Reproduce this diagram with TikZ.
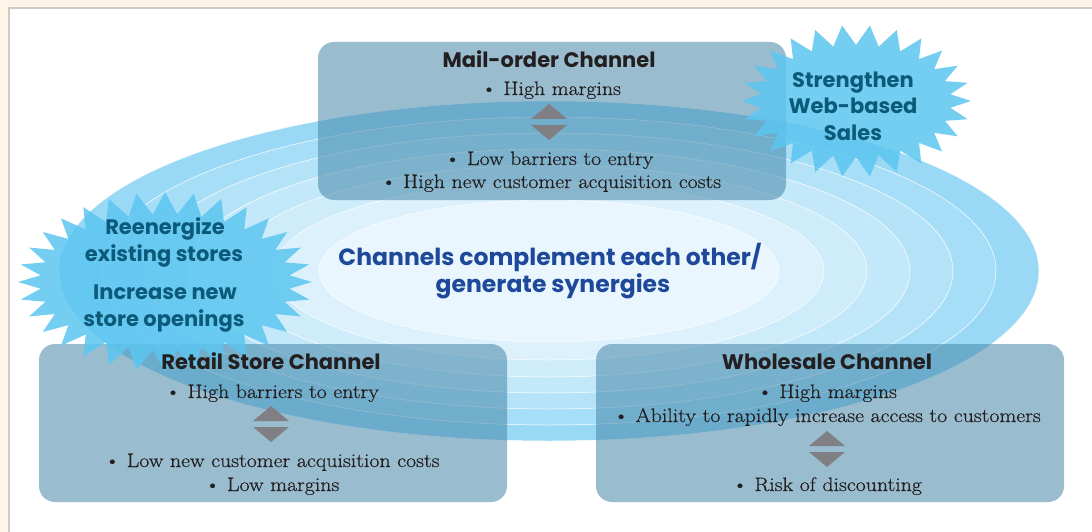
\documentclass[tikz,border=0pt]{standalone}
\usepackage{fontspec}
\newfontfamily\futura{Poppins}
\newfontfamily\bodyserif{Latin Modern Roman}[FakeStretch=1.12,FakeBold=0.6]
\usetikzlibrary{positioning}
\definecolor{cream}{RGB}{254,244,232}
\definecolor{rim}{RGB}{207,202,195}
\definecolor{ringout}{RGB}{154,217,246}
\definecolor{ringin}{RGB}{233,246,253}
\definecolor{boxblue}{RGB}{70,135,168}
\definecolor{burst}{RGB}{92,198,240}
\definecolor{bursttext}{RGB}{12,90,122}
\definecolor{synergy}{RGB}{30,72,154}
\definecolor{ink}{RGB}{35,31,32}
\definecolor{arrowgray}{RGB}{128,128,132}

\tikzset{
  chanbox/.style={fill=boxblue,fill opacity=0.55,rounded corners=16pt},
  chantitle/.style={anchor=base,inner sep=0pt,text=ink,font=\futura\bfseries\fontsize{21}{24}\selectfont},
  chanitem/.style={anchor=base,inner sep=0pt,text=ink,font=\bodyserif\fontsize{19.5}{22}\selectfont},
  burstline/.style={anchor=base,inner sep=0pt,text=bursttext,font=\futura\bfseries\fontsize{21}{24}\selectfont},
  synline/.style={anchor=base,inner sep=0pt,text=synergy,font=\futura\bfseries\fontsize{23.5}{26}\selectfont},
}

% two grey triangles between pros and cons
\newcommand{\tradeoff}[2]{%
  \fill[arrowgray] (#1,#2) -- (#1+18,#2+15) -- (#1-18,#2+15) -- cycle;
  \fill[arrowgray] (#1-18,#2+21) -- (#1+18,#2+21) -- (#1,#2+36) -- cycle;
}
% spiky burst: centre, radii, spike height, number of spikes
\newcommand{\spikes}[6]{%
  \fill[burst,fill opacity=0.85] ({#1+#3},#2)
    \foreach \k in {1,...,\numexpr2*#6\relax}
      { -- ({#1+(#3-#5*mod(\k,2))*cos(\k*180/#6)},{#2+(#4-#5*mod(\k,2))*sin(\k*180/#6)}) }
    -- cycle;
}

\begin{document}
\begin{tikzpicture}[x=1pt,y=-1pt]
    \useasboundingbox (0,0) rectangle (1092,532);
    \fill[cream] (0,0) rectangle (1092,532);
    \fill[white] (9,8) rectangle (1092,532);
    \draw[rim,line width=2pt] (9,532) -- (9,8) -- (1092,8);

    % rings, outer to inner
    \foreach \rx/\ry [count=\i from 0] in {490/170,447/154,404/138,361/122,318/106,275/89,230/71}
    {
      \pgfmathsetmacro\p{\i*100/6}
      \fill[ringin!\p!ringout,draw=white,line width=0.5pt] (549,271) ellipse [x radius=\rx, y radius=\ry];
    }
    \node[synline] (syn1) at (550,265) {Channels complement each other/};
    \node[synline] (syn2) at (553,292) {generate synergies};

    % channel boxes
    \fill[chanbox] (318,42) rectangle (786,200);
    \fill[chanbox] (39,344) rectangle (507,502);
    \fill[chanbox] (596,344) rectangle (1064,502);

    % bursts
    \spikes{856}{101}{115}{76}{20}{26}
    \spikes{165}{282}{147}{90}{22}{32}
    \node[burstline] (web1) at (853,88) {Strengthen};
    \node[burstline] (web2) at (853,114) {Web-based};
    \node[burstline] (web3) at (853,140) {Sales};
    \node[burstline] (store1) at (165,234) {Reenergize};
    \node[burstline] (store2) at (164,261) {existing stores};
    \node[burstline] (store3) at (165,299) {Increase new};
    \node[burstline] (store4) at (164,326) {store openings};

    % mail-order
    \node[chantitle] (mail) at (549,68) {Mail-order Channel};
    \node[chanitem] (mail1) at (551,95) {\textbullet\ High margins};
    \tradeoff{549}{104}
    \node[chanitem] (mail2) at (549,165) {\textbullet\ Low barriers to entry};
    \node[chanitem] (mail3) at (551,188) {\textbullet\ High new customer acquisition costs};

    % retail store
    \node[chantitle] (retail) at (271,369) {Retail Store Channel};
    \node[chanitem] (retail1) at (272,398) {\textbullet\ High barriers to entry};
    \tradeoff{271}{406}
    \node[chanitem] (retail2) at (272,467) {\textbullet\ Low new customer acquisition costs};
    \node[chanitem] (retail3) at (272,491) {\textbullet\ Low margins};

    % wholesale
    \node[chantitle] (whole) at (827,369) {Wholesale Channel};
    \node[chanitem] (whole1) at (827,398) {\textbullet\ High margins};
    \node[chanitem] (whole2) at (827,422) {\textbullet\ Ability to rapidly increase access to customers};
    \tradeoff{827}{431}
    \node[chanitem] (whole3) at (827,491) {\textbullet\ Risk of discounting};
\end{tikzpicture}
\end{document}
